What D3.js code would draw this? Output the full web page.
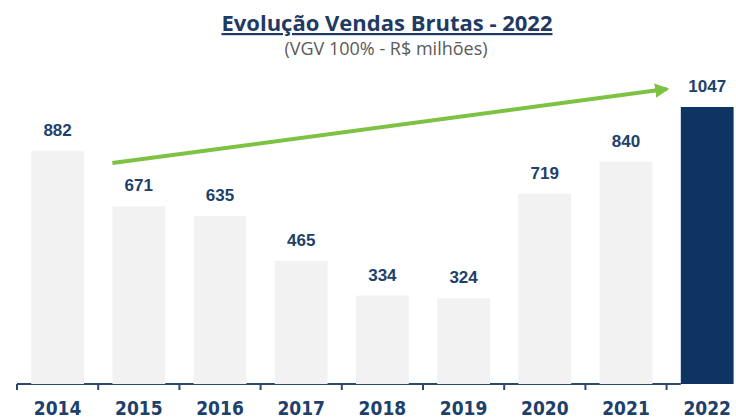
<!DOCTYPE html>
<html>
<head>
<meta charset="utf-8">
<script src="https://cdn.jsdelivr.net/npm/d3@7"></script>
<style>
  html, body { margin: 0; padding: 0; background: #fff; }
  svg { display: block; }
</style>
</head>
<body>
<svg id="chart" width="736" height="418"></svg>
<script>
const years = ["2014", "2015", "2016", "2017", "2018", "2019", "2020", "2021", "2022"];
const values = [882, 671, 635, 465, 334, 324, 719, 840, 1047];
const highlight = "2022";
// trend arrow, in data units: [year band, value]
const trendFrom = ["2015", 835];
const trendTo = ["2022", 1115];

const width = 736;
const height = 418;
const margin = { left: 17, bottom: 34 };
const step = 81.2;

const x = d3
  .scaleBand()
  .domain(years)
  .range([margin.left, margin.left + step * years.length])
  .paddingInner(0.35)
  .paddingOuter(0.175);

const y = d3
  .scaleLinear()
  .domain([0, 1047])
  .range([height - margin.bottom, 107]);

const navy = "#0d3462";
const labelColor = "#1d416b";
const narrow = "'Liberation Sans Narrow', 'Arial Narrow', 'DejaVu Sans Condensed', sans-serif";

const svg = d3.select("#chart");

// title
svg
  .append("text")
  .attr("x", 387)
  .attr("y", 31)
  .attr("text-anchor", "middle")
  .attr("fill", "#1f3a64")
  .attr("font-family", "'Open Sans', sans-serif")
  .attr("font-weight", 700)
  .attr("font-size", 22)
  .attr("text-decoration", "underline")
  .text("Evolução Vendas Brutas - 2022");

svg
  .append("text")
  .attr("x", 386)
  .attr("y", 55)
  .attr("text-anchor", "middle")
  .attr("fill", "#5a5a5a")
  .attr("font-family", "'Open Sans', sans-serif")
  .attr("font-size", 18)
  .text("(VGV 100% - R$ milhões)");

const data = years.map((year, i) => ({ year, value: values[i] }));

// axis line and ticks at band boundaries
const bandStart = (d) => x(d) - (x.step() - x.bandwidth()) / 2;
const axisG = svg.append("g").attr("stroke", "#2c4a6e").attr("stroke-width", 2);
axisG
  .append("line")
  .attr("x1", bandStart(years[0]))
  .attr("x2", x(highlight))
  .attr("y1", y(0))
  .attr("y2", y(0));
axisG
  .selectAll("line.tick")
  .data(years)
  .join("line")
  .attr("class", "tick")
  .attr("x1", (d) => bandStart(d))
  .attr("x2", (d) => bandStart(d))
  .attr("y1", y(0))
  .attr("y2", y(0) + 6);

// bars
svg
  .append("g")
  .selectAll("rect")
  .data(data)
  .join("rect")
  .attr("x", (d) => x(d.year))
  .attr("y", (d) => y(d.value))
  .attr("width", x.bandwidth())
  .attr("height", (d) => y(0) - y(d.value))
  .attr("fill", (d) => (d.year === highlight ? navy : "#f2f2f2"));

// value labels
svg
  .append("g")
  .selectAll("text")
  .data(data)
  .join("text")
  .attr("x", (d) => x(d.year) + x.bandwidth() / 2)
  .attr("y", (d) => y(d.value) - 15)
  .attr("text-anchor", "middle")
  .attr("fill", labelColor)
  .attr("font-family", "'Liberation Sans', Arial, sans-serif")
  .attr("font-weight", 700)
  .attr("font-size", 17)
  .text((d) => d.value);

// year labels
svg
  .append("g")
  .selectAll("text")
  .data(years)
  .join("text")
  .attr("x", (d) => x(d) + x.bandwidth() / 2)
  .attr("y", y(0) + 31)
  .attr("text-anchor", "middle")
  .attr("fill", labelColor)
  .attr("font-family", narrow)
  .attr("font-weight", 700)
  .attr("font-size", 19)
  .text((d) => d);

// trend arrow
const green = "#7dc242";
svg
  .append("defs")
  .append("marker")
  .attr("id", "head")
  .attr("viewBox", "0 0 10 10")
  .attr("refX", 8)
  .attr("refY", 5)
  .attr("markerWidth", 3.6)
  .attr("markerHeight", 3.6)
  .attr("orient", "auto")
  .append("path")
  .attr("d", "M0,0L10,5L0,10Z")
  .attr("fill", green);

svg
  .append("line")
  .attr("x1", x(trendFrom[0]))
  .attr("y1", y(trendFrom[1]))
  .attr("x2", bandStart(trendTo[0]))
  .attr("y2", y(trendTo[1]))
  .attr("stroke", green)
  .attr("stroke-width", 4)
  .attr("marker-end", "url(#head)");
</script>
</body>
</html>
